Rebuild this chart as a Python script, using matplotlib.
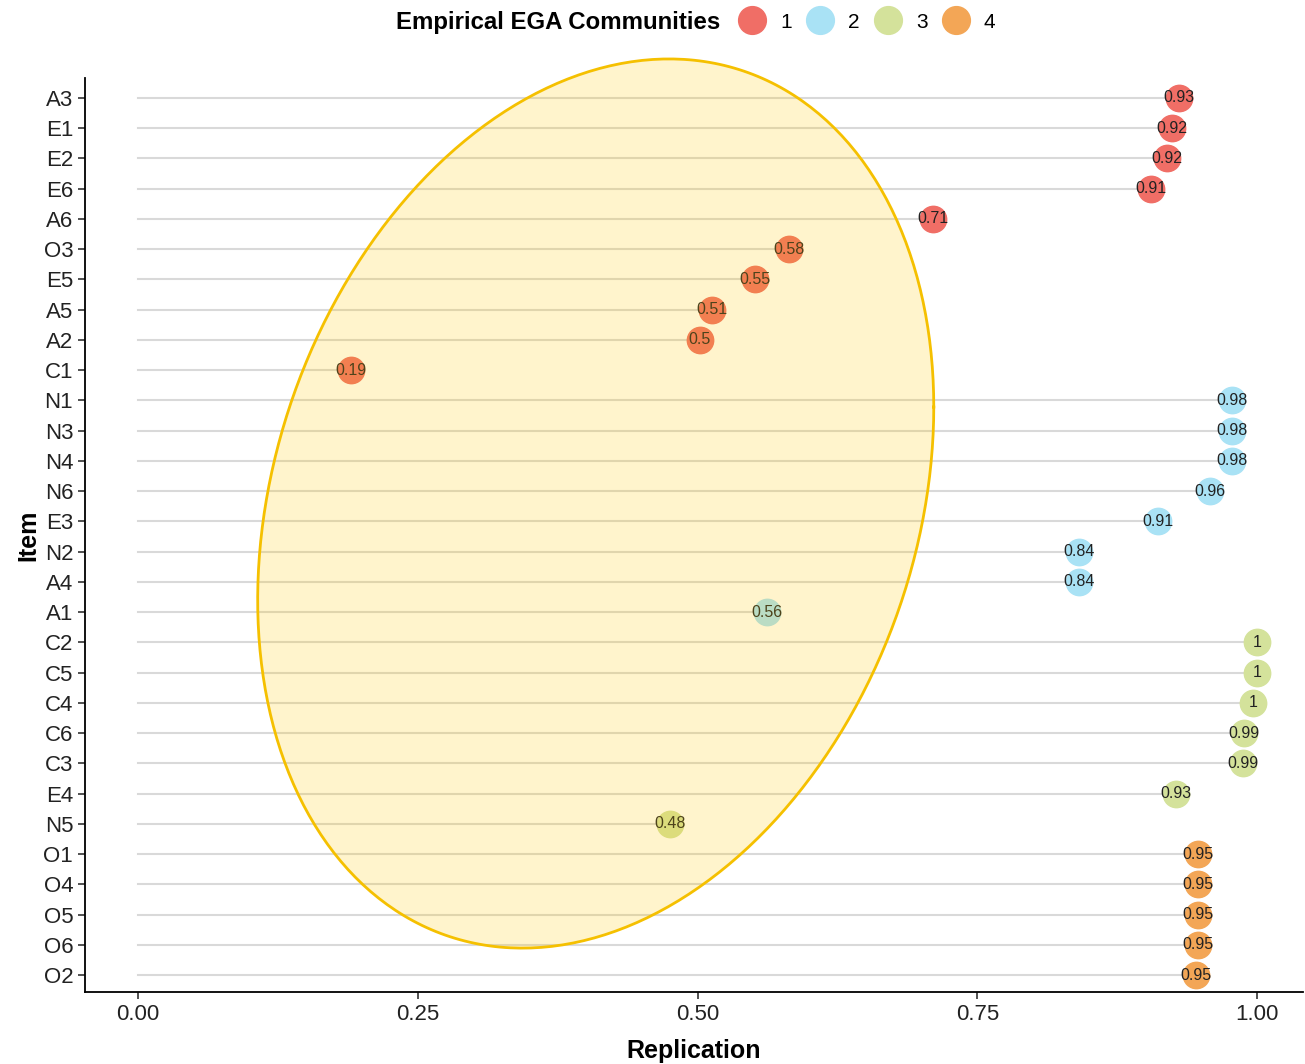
import numpy as np
from matplotlib import pyplot as plt
from matplotlib.lines import Line2D

plt.rcParams['font.family'] = ['Liberation Sans', 'DejaVu Sans']

# data (top to bottom)
items = ['A3', 'E1', 'E2', 'E6', 'A6', 'O3', 'E5', 'A5', 'A2', 'C1',
         'N1', 'N3', 'N4', 'N6', 'E3', 'N2', 'A4', 'A1',
         'C2', 'C5', 'C4', 'C6', 'C3', 'E4', 'N5',
         'O1', 'O4', 'O5', 'O6', 'O2']
replication = [0.93, 0.924, 0.919, 0.905, 0.71, 0.582, 0.551, 0.513, 0.502, 0.19,
               0.977, 0.977, 0.977, 0.958, 0.911, 0.841, 0.841, 0.562,
               1.0, 1.0, 0.996, 0.988, 0.987, 0.927, 0.475,
               0.947, 0.947, 0.947, 0.947, 0.945]
labels = ['0.93', '0.92', '0.92', '0.91', '0.71', '0.58', '0.55', '0.51', '0.5', '0.19',
          '0.98', '0.98', '0.98', '0.96', '0.91', '0.84', '0.84', '0.56',
          '1', '1', '1', '0.99', '0.99', '0.93', '0.48',
          '0.95', '0.95', '0.95', '0.95', '0.95']
community = [1] * 10 + [2] * 8 + [3] * 7 + [4] * 5

comm_names = ['1', '2', '3', '4']
comm_colors = {1: '#F06E66', 2: '#A9E2F5', 3: '#D4E29B', 4: '#F3A656'}

# highlighted region (data units): centre, spread, correlation
ell_center = (0.409, 15.59)
ell_spread = (0.302, 14.70)
ell_corr = 0.217

n = len(items)
ypos = np.arange(n)[::-1]

fig = plt.figure(figsize=(13.05, 10.64), dpi=100)
ax = fig.add_axes([0.0651, 0.0677, 0.9335, 0.859])

for y, v in zip(ypos, replication):
    ax.plot([0, v], [y, y], color='#D9D9D9', lw=1.5, zorder=1)

for y, v, c, lab in zip(ypos, replication, community, labels):
    ax.plot(v, y, 'o', ms=19, color=comm_colors[c], mec=comm_colors[c], zorder=2)
    ax.text(v, y, lab, ha='center', va='center', fontsize=11.5, color='#222222', zorder=3)

t = np.linspace(0, 2 * np.pi, 400)
ex = ell_center[0] + ell_spread[0] * np.cos(t)
ey = ell_center[1] + ell_spread[1] * (ell_corr * np.cos(t) + np.sqrt(1 - ell_corr ** 2) * np.sin(t))
ax.fill(ex, ey, color='#FFC800', alpha=0.2, lw=0, zorder=4, clip_on=False)
ax.plot(ex, ey, color='#F5C000', lw=2, zorder=5, clip_on=False)

ax.set_xlim(-0.0473, 1.041)
ax.set_ylim(-0.56, n - 1 + 0.66)
ax.set_yticks(ypos)
ax.set_yticklabels(items)
ax.set_xticks([0, 0.25, 0.5, 0.75, 1.0])
ax.set_xticklabels(['0.00', '0.25', '0.50', '0.75', '1.00'])
ax.tick_params(axis='both', labelsize=16, length=5, width=1.2, color='#333333', labelcolor='#222222')
ax.spines['top'].set_visible(False)
ax.spines['right'].set_visible(False)
ax.spines['left'].set_linewidth(1.3)
ax.spines['bottom'].set_linewidth(1.3)
ax.set_xlabel('Replication', fontsize=18, fontweight='bold', labelpad=10)
ax.set_ylabel('Item', fontsize=18, fontweight='bold', labelpad=2)

# legend on top
fig.text(720 / 1305, 1 - 22 / 1064, 'Empirical EGA Communities', ha='right', va='center',
         fontsize=17.3, fontweight='bold')
handles = [Line2D([], [], marker='o', ls='', ms=20, color=comm_colors[i + 1]) for i in range(4)]
fig.legend(handles, comm_names, loc='center left', bbox_to_anchor=(718 / 1305, 1 - 22 / 1064),
           ncol=4, frameon=False, fontsize=15, handletextpad=0.6, columnspacing=0.6,
           handlelength=1.5)

fig.savefig('out.png', dpi=100)
